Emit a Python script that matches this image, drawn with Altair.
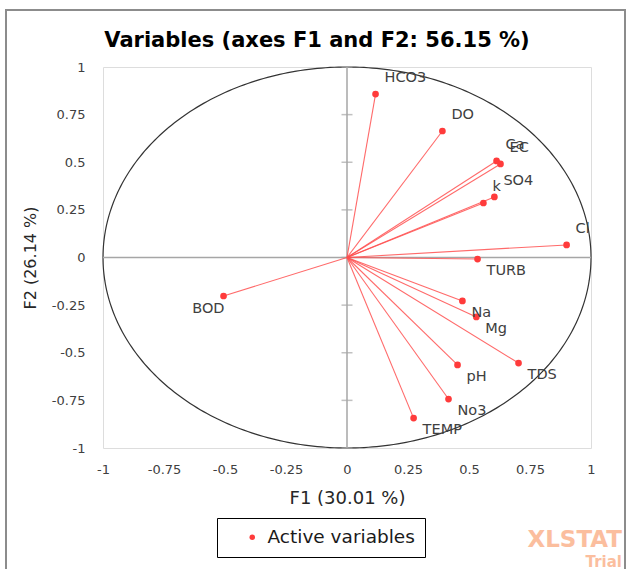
import altair as alt
import numpy as np
import pandas as pd

# ---- data ----
names = ["HCO3", "DO", "Ca", "EC", "k", "SO4", "Cl", "TURB", "Na", "Mg", "pH", "TDS", "No3", "TEMP", "BOD"]
f1 = [0.117, 0.391, 0.613, 0.629, 0.559, 0.604, 0.900, 0.535, 0.473, 0.530, 0.453, 0.703, 0.416, 0.273, -0.506]
f2 = [0.858, 0.664, 0.507, 0.491, 0.286, 0.318, 0.066, -0.008, -0.228, -0.312, -0.564, -0.554, -0.743, -0.843, -0.202]
tick_values = [-1, -0.75, -0.5, -0.25, 0, 0.25, 0.5, 0.75, 1]
series_name = "Active variables"
title_text = "Variables (axes F1 and F2: 56.15 %)"
x_title = "F1 (30.01 %)"
y_title = "F2 (26.14 %)"
watermark = ["XLSTAT", "Trial"]

df = pd.DataFrame({"name": names, "F1": f1, "F2": f2, "series": series_name})
# unit circle (geometric reference, not data)
theta = np.linspace(0, 2 * np.pi, 361)
circle = pd.DataFrame({"cx": np.cos(theta), "cy": np.sin(theta), "i": np.arange(361)})
ticks = pd.DataFrame({"v": tick_values})
one = pd.DataFrame({"z": [0]})

W, H = 488, 381
FONT = "DejaVu Sans"
RED = "#FF3B3B"
GRAY = "#A6A6A6"
TXT = "#404040"

xs = alt.Scale(domain=[-1, 1], nice=False, zero=False)
ys = alt.Scale(domain=[-1, 1], nice=False, zero=False)
lab = "replace(format(datum.value, '.2~f'), '\u2212', '-')"

xaxis = alt.Axis(values=tick_values, title=x_title, grid=False, domain=False, ticks=False,
                 labelPadding=15, labelFont=FONT, labelFontSize=13, labelColor=TXT,
                 labelFlush=False, labelOverlap=False, labelExpr=lab,
                 titleFont=FONT, titleFontSize=18, titleFontWeight="normal", titleColor="#262626",
                 titleX=W / 2, titleY=55, titleBaseline="alphabetic")
yaxis = alt.Axis(values=tick_values, title=y_title, grid=False, domain=False, ticks=False,
                 labelPadding=18, labelFont=FONT, labelFontSize=13, labelColor=TXT,
                 labelFlush=False, labelOverlap=False, labelExpr=lab,
                 titleFont=FONT, titleFontSize=16, titleFontWeight="normal", titleColor="#262626",
                 titleX=-73, titleY=H / 2, titleAngle=-90, titleAlign="center", titleBaseline="middle")


def X(f):
    return alt.X(f, scale=xs, axis=xaxis)


def Y(f):
    return alt.Y(f, scale=ys, axis=yaxis)


circ = alt.Chart(circle).mark_line(color="#333333", strokeWidth=1.2).encode(
    x=X("cx:Q"), y=Y("cy:Q"), order="i:Q")

hzero = alt.Chart(one).mark_rule(color=GRAY, strokeWidth=1.5).encode(y=Y("z:Q"))
vzero = alt.Chart(one).mark_rule(color=GRAY, strokeWidth=1.5).encode(x=X("z:Q"))

yticks = alt.Chart(ticks).transform_calculate(z="0").mark_tick(
    orient="horizontal", size=11, thickness=1.5, color=GRAY).encode(x=X("z:Q"), y=Y("v:Q"))

vectors = alt.Chart(df).transform_calculate(o="0").mark_rule(
    color="#FF5050", strokeWidth=1.1, opacity=0.85).encode(
    x=X("o:Q"), y=Y("o:Q"), x2="F1:Q", y2="F2:Q")

points = alt.Chart(df).mark_circle(size=45, opacity=1).encode(
    x=X("F1:Q"), y=Y("F2:Q"),
    color=alt.Color("series:N", scale=alt.Scale(range=[RED]),
                    legend=alt.Legend(orient="none", legendX=114, legendY=451, title=None,
                                      fillColor="white", strokeColor="black", padding=10,
                                      symbolOffset=16, symbolType="circle", symbolSize=30,
                                      symbolStrokeWidth=0, labelOffset=6,
                                      labelFont=FONT, labelFontSize=18.5, labelColor="#1a1a1a")),
)


def labels(cond, dx, dy, align):
    return alt.Chart(df).transform_filter(cond).mark_text(
        align=align, baseline="middle", dx=dx, dy=dy, font=FONT, fontSize=14.5, color=TXT).encode(
        x=X("F1:Q"), y=Y("F2:Q"), text="name:N")


lab_up = labels("datum.F1 >= 0 && datum.F2 >= 0", 9, -16, "left")
lab_down = labels("datum.F1 >= 0 && datum.F2 < 0", 9, 12, "left")
lab_left = labels("datum.F1 < 0", 1, 13, "right")

border = alt.Chart(one).mark_rect(fill="transparent", stroke="#8C8C8C", strokeWidth=2).encode(
    x=alt.value(-97), x2=alt.value(522), y=alt.value(-57), y2=alt.value(520))

wm1 = alt.Chart(one).mark_text(text=watermark[0], align="right", baseline="alphabetic",
                               font=FONT, fontSize=23, fontWeight="bold", color="#FBBE9E").encode(
    x=alt.value(519), y=alt.value(480))
wm2 = alt.Chart(one).mark_text(text=watermark[1], align="right", baseline="alphabetic",
                               font=FONT, fontSize=15, fontWeight="bold", color="#FBBE9E").encode(
    x=alt.value(519), y=alt.value(500))

chart = alt.layer(
    circ, hzero, vzero, yticks, vectors, points, lab_up, lab_down, lab_left, border, wm1, wm2
).properties(
    width=W, height=H,
    title=alt.TitleParams(title_text, font=FONT, fontSize=21, fontWeight="bold", color="black",
                          anchor="middle", frame="group", baseline="alphabetic",
                          offset=0, dx=-30, dy=59),
    autosize=alt.AutoSizeParams(type="none"),
    padding={"left": 103, "top": 67, "right": 36, "bottom": 121},
).configure_view(
    stroke="#D0D0D0", strokeWidth=1.5
).configure(background="white")

chart.save("out.html", embed_options={"renderer": "svg", "actions": False})
